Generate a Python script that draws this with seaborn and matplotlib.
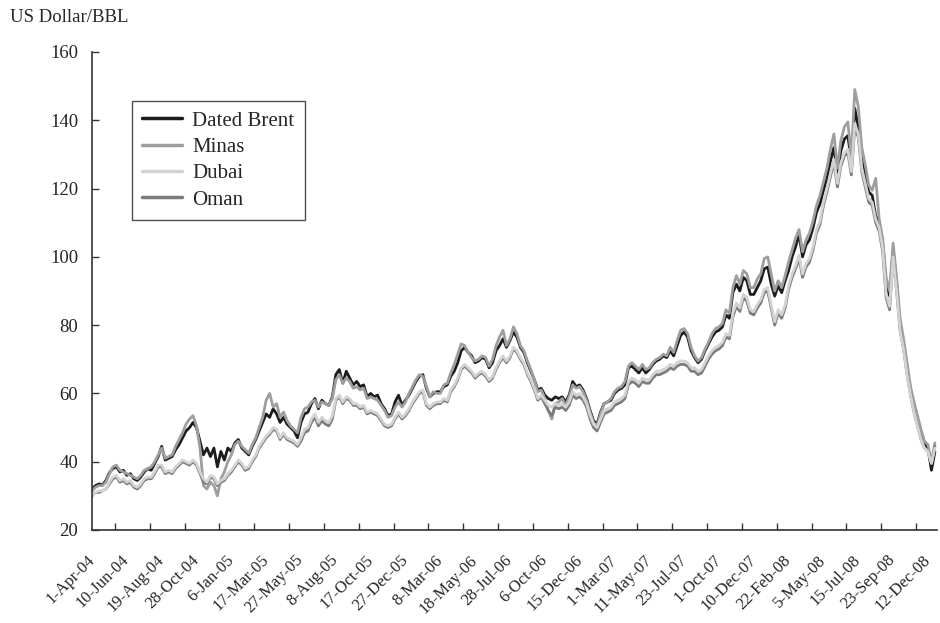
import matplotlib.pyplot as plt
import numpy as np
import pandas as pd
import seaborn as sns

# one reading every 5 trading days, starting 1-Apr-04
STEP_DAYS = 5
LABEL_EVERY = 50
SERIES = ["Dated Brent", "Minas", "Dubai", "Oman"]
COLORS = {
    "Dated Brent": "#1c1c1c",
    "Minas": "#9e9e9e",
    "Dubai": "#d3d3d3",
    "Oman": "#7c7c7c",
}
# Dubai is drawn over Oman, as in the original
ZORDER = {"Dated Brent": 2.0, "Minas": 2.1, "Dubai": 2.3, "Oman": 2.2}
DATE_LABELS = [
    "1-Apr-04", "10-Jun-04", "19-Aug-04", "28-Oct-04", "6-Jan-05", "17-Mar-05",
    "27-May-05", "8-Aug-05", "17-Oct-05", "27-Dec-05", "8-Mar-06", "18-May-06",
    "28-Jul-06", "6-Oct-06", "15-Dec-06", "1-Mar-07", "11-May-07", "23-Jul-07",
    "1-Oct-07", "10-Dec-07", "22-Feb-08", "5-May-08", "15-Jul-08", "23-Sep-08",
    "12-Dec-08",
]
Y_TICKS = [20, 40, 60, 80, 100, 120, 140, 160]

dated_brent = [
    32.0, 33.0, 33.5, 33.2, 34.5, 36.8, 38.0, 38.5, 37.0, 37.5,
    36.0, 36.5, 35.0, 34.5, 35.5, 37.0, 38.0, 37.5, 39.5, 41.5,
    44.5, 40.5, 41.0, 41.5, 43.5, 45.0, 47.0, 49.0, 50.0, 51.5,
    50.0, 46.0, 42.0, 44.0, 41.5, 44.0, 38.5, 43.0, 40.5, 44.0,
    43.0, 45.5, 46.5, 44.0, 43.0, 42.0, 44.5, 46.5, 49.0, 51.5,
    54.0, 53.0, 55.5, 54.0, 51.5, 53.0, 51.0, 50.0, 49.0, 47.0,
    51.5, 54.0, 54.5, 57.0, 58.5, 55.5, 58.0, 57.0, 56.5, 59.0,
    65.5, 67.0, 63.0, 66.5, 64.5, 62.5, 63.5, 62.0, 62.5, 59.0,
    60.0, 59.0, 59.5, 57.0, 55.5, 53.5, 54.0, 57.5, 59.5, 56.5,
    58.0, 59.5, 61.5, 63.5, 65.0, 65.5, 61.5, 59.0, 60.0, 60.5,
    60.5, 62.0, 62.5, 65.0, 66.5, 69.0, 72.5, 73.5, 72.0, 71.0,
    69.0, 69.5, 70.5, 70.0, 67.5, 69.0, 72.5, 74.0, 76.0, 73.5,
    75.5, 78.0, 76.5, 73.5, 72.0, 69.0, 66.5, 64.0, 61.0, 61.5,
    59.5, 58.5, 58.0, 59.0, 58.5, 59.0, 57.5, 59.5, 63.5, 62.0,
    62.5, 61.0, 58.5, 55.0, 52.0, 51.0, 54.5, 57.0, 57.5, 58.0,
    60.0, 61.0, 61.5, 62.5, 67.5, 68.0, 67.0, 66.0, 67.5, 66.0,
    67.0, 68.5, 69.5, 70.0, 71.0, 70.5, 72.5, 71.0, 74.0, 77.0,
    78.0, 76.5, 72.5, 70.5, 69.0, 70.0, 72.5, 74.5, 76.5, 78.0,
    78.5, 79.5, 83.0, 82.0, 89.5, 92.0, 90.0, 94.0, 93.0, 89.0,
    89.0, 91.0, 93.0, 96.5, 97.0, 92.0, 88.5, 91.5, 89.5, 93.0,
    96.0, 100.0, 103.0, 106.5, 100.0, 103.5, 105.0, 108.5, 113.0, 115.5,
    119.5, 123.0, 128.0, 132.0, 124.5, 131.0, 134.5, 135.5, 128.0, 143.5,
    138.0, 128.5, 124.0, 119.0, 118.0, 112.0, 110.0, 104.0, 92.0, 88.5,
    102.0, 92.0, 80.0, 74.0, 67.0, 61.0, 56.0, 52.0, 48.0, 45.0,
    44.0, 37.5, 43.0,
]

minas = [
    31.5, 32.5, 33.0, 33.0, 34.0, 36.5, 38.5, 39.0, 37.5, 37.0,
    36.5, 36.0, 35.5, 35.0, 36.0, 37.5, 38.0, 38.5, 40.0, 42.0,
    44.0, 41.0, 41.5, 42.0, 44.5, 46.5, 48.5, 51.0, 52.5, 53.5,
    50.5, 44.0, 33.0, 32.0, 34.0, 33.0, 30.0, 35.0, 37.0, 40.0,
    42.0, 45.0, 46.0, 44.5, 43.5, 42.5, 45.0, 47.0, 50.0, 53.0,
    58.0, 60.0, 56.0, 57.0, 53.0, 54.5, 52.0, 50.5, 49.5, 48.5,
    53.0, 55.5, 56.0, 57.5, 58.0, 56.0, 57.5, 57.0, 56.5, 58.5,
    64.0, 65.5, 63.0, 64.5, 63.5, 61.5, 62.0, 61.0, 61.5, 58.5,
    59.0, 58.5, 58.0, 56.5, 55.0, 53.0, 53.5, 56.0, 57.5, 56.0,
    57.5, 60.0, 62.0, 64.0, 65.5, 65.0, 62.0, 59.0, 60.5, 60.0,
    60.0, 62.5, 63.0, 66.0, 68.5, 71.5, 74.5, 74.0, 72.0, 70.5,
    69.5, 70.0, 71.0, 70.5, 68.0, 70.0, 74.0, 76.5, 78.5, 74.0,
    76.0, 79.5, 77.5, 74.0, 72.5, 69.5, 67.0, 64.0, 60.5, 61.0,
    58.5, 55.0, 52.5, 57.0, 57.5, 58.5, 56.5, 59.0, 62.5, 61.5,
    62.0, 60.5, 58.0, 54.5, 51.5, 50.5, 54.0, 57.0, 57.5, 58.5,
    60.5, 61.5, 62.0, 63.5, 68.0, 69.0, 68.0, 67.0, 68.5, 67.0,
    67.5, 69.0, 70.0, 70.5, 71.5, 71.0, 73.5, 72.0, 75.5, 78.5,
    79.0, 77.5, 73.5, 71.0, 69.5, 70.5, 73.0, 75.0, 77.5, 79.0,
    79.5, 80.5, 84.5, 83.5, 91.0, 94.5, 92.0, 96.0, 95.0, 91.0,
    91.0, 93.5, 95.0, 99.5, 100.0, 95.0, 90.0, 93.0, 91.0, 94.5,
    98.5, 102.0, 105.5, 108.0, 101.5, 105.0, 107.0, 110.5, 115.0, 118.0,
    122.0, 126.0, 131.5, 136.0, 126.0, 134.0, 138.0, 139.5, 129.0, 149.0,
    144.0, 132.0, 127.0, 121.0, 119.5, 123.0, 111.0, 105.5, 94.0, 90.0,
    104.0, 94.0, 82.0, 76.0, 69.0, 62.0, 57.5, 53.5, 49.5, 46.0,
    45.0, 40.0, 45.5,
]

dubai = [
    30.0, 31.0, 31.5, 31.5, 32.0, 34.0, 35.5, 36.0, 34.5, 35.0,
    34.0, 34.5, 33.0, 32.5, 33.5, 35.0, 35.5, 35.5, 37.0, 39.0,
    39.0, 37.0, 37.5, 37.0, 38.5, 39.5, 40.5, 40.0, 39.5, 40.5,
    39.5, 37.0, 35.0, 34.0, 36.0, 35.5, 33.5, 34.5, 35.0, 36.5,
    37.5, 39.0, 40.5, 39.5, 38.0, 38.5, 40.5, 42.0, 44.5, 46.0,
    47.5, 48.5, 50.0, 49.5, 47.0, 48.5, 47.0, 46.5, 46.0, 45.0,
    47.0, 49.5, 50.0, 52.5, 54.0, 51.5, 53.0, 52.0, 51.5, 53.5,
    58.5, 59.5, 57.5, 59.0, 58.5, 57.0, 57.0, 56.0, 56.5, 54.5,
    55.0, 54.5, 54.0, 52.5, 51.0, 50.5, 51.0, 53.0, 54.5, 53.0,
    54.0, 55.5, 57.5, 59.0, 60.5, 61.0, 57.0, 56.0, 57.0, 57.5,
    57.5, 58.5, 58.0, 61.0, 62.5, 64.5, 67.5, 68.5, 67.5, 66.5,
    65.0, 66.0, 66.5, 65.5, 64.0, 65.0, 67.5, 69.5, 71.0, 69.5,
    71.0, 73.5, 72.5, 70.5, 69.0, 66.0, 64.0, 61.5, 58.5, 59.5,
    58.0, 56.5, 56.0, 57.0, 56.5, 57.0, 56.0, 57.5, 60.5, 59.5,
    60.0, 59.0, 57.0, 53.5, 51.0, 50.0, 52.5, 55.0, 55.5, 56.0,
    57.5, 58.0, 58.5, 59.5, 63.5, 64.5, 64.0, 63.0, 64.5, 64.0,
    64.0, 65.5, 66.5, 66.5, 67.0, 67.5, 68.5, 68.0, 69.0, 69.5,
    69.5, 69.0, 67.5, 67.5, 66.5, 67.0, 69.0, 71.0, 72.5, 73.5,
    74.0, 75.0, 77.5, 77.0, 83.5, 86.5, 85.0, 89.0, 88.0, 84.5,
    84.0, 86.0, 87.5, 90.5, 91.0, 86.0, 81.0, 84.5, 83.0, 86.0,
    91.5, 95.0, 97.5, 100.5, 95.0, 98.0, 99.5, 103.0, 108.0, 110.5,
    116.0, 120.0, 124.5, 128.5, 121.5, 127.5, 130.5, 131.5, 125.0, 139.0,
    136.0, 126.0, 121.5, 117.0, 116.0, 111.0, 108.5, 102.5, 89.0, 85.5,
    100.0, 90.0, 78.5, 73.0, 65.5, 59.5, 54.5, 50.5, 46.5, 44.0,
    43.0, 39.5, 44.0,
]

oman = [
    30.0, 31.0, 31.0, 31.5, 32.0, 33.5, 35.0, 35.5, 34.0, 34.5,
    33.5, 34.0, 32.5, 32.0, 33.0, 34.5, 35.0, 35.0, 36.5, 38.5,
    38.5, 36.5, 37.0, 36.5, 38.0, 39.0, 40.0, 39.5, 39.0, 40.0,
    39.0, 36.5, 34.0, 33.5, 35.5, 35.0, 33.0, 34.0, 34.5, 36.0,
    37.0, 38.5, 40.0, 39.0, 37.5, 38.0, 40.0, 41.5, 44.0, 45.5,
    47.0, 48.0, 49.5, 49.0, 46.5, 48.0, 46.5, 46.0, 45.5, 44.5,
    46.0, 48.5, 49.0, 51.5, 53.0, 50.5, 52.0, 51.0, 50.5, 52.5,
    58.0, 59.0, 57.0, 58.5, 58.0, 56.5, 56.5, 55.5, 56.0, 54.0,
    54.5, 54.0, 53.5, 52.0, 50.5, 50.0, 50.5, 52.5, 54.0, 52.5,
    53.5, 55.0, 57.0, 58.5, 60.0, 60.5, 56.5, 55.5, 56.5, 57.0,
    57.0, 58.0, 57.5, 60.5, 62.0, 64.0, 67.0, 68.0, 67.0, 66.0,
    64.5, 65.5, 66.0, 65.0, 63.5, 64.5, 67.0, 69.0, 70.5, 69.0,
    70.5, 73.0, 72.0, 70.0, 68.5, 65.5, 63.5, 61.0, 58.0, 59.0,
    57.0, 55.0, 53.5, 56.0, 55.5, 56.0, 55.0, 56.5, 59.5, 58.5,
    59.0, 58.0, 56.0, 52.5, 50.0, 49.0, 51.5, 54.0, 54.5, 55.0,
    56.5, 57.0, 57.5, 58.5, 62.5, 63.5, 63.0, 62.0, 63.5, 63.0,
    63.0, 64.5, 65.5, 65.5, 66.0, 66.5, 67.5, 67.0, 68.0, 68.5,
    68.5, 68.0, 66.5, 66.5, 65.5, 66.0, 68.0, 70.0, 71.5, 72.5,
    73.0, 74.0, 76.5, 76.0, 82.5, 85.5, 84.0, 88.0, 87.0, 83.5,
    83.0, 85.0, 86.5, 89.5, 90.0, 85.0, 80.0, 83.5, 82.0, 85.0,
    90.5, 94.0, 96.5, 99.5, 94.0, 97.0, 98.5, 102.0, 107.0, 109.5,
    115.0, 119.0, 123.5, 127.5, 120.5, 126.5, 129.5, 130.5, 124.0, 138.0,
    135.0, 125.0, 120.5, 116.0, 115.0, 110.0, 107.5, 101.5, 88.0, 84.5,
    100.0, 90.0, 78.5, 73.0, 65.5, 59.5, 54.5, 50.5, 46.5, 44.0,
    43.0, 39.5, 44.5,
]


def build_frame():
    frames = []
    for name, values in zip(SERIES, [dated_brent, minas, dubai, oman]):
        frames.append(pd.DataFrame({
            "day": np.arange(len(values)) * STEP_DAYS,
            "price": values,
            "crude": name,
        }))
    return pd.concat(frames, ignore_index=True)


def main():
    df = build_frame()

    sns.set_style("ticks")
    plt.rcParams["font.family"] = ["Liberation Serif", "DejaVu Serif"]

    fig = plt.figure(figsize=(9.4, 6.23), dpi=100)
    ax = fig.add_axes([92 / 940, 93 / 623, 845 / 940, 478 / 623])

    sns.lineplot(data=df, x="day", y="price", hue="crude", hue_order=SERIES,
                 palette=COLORS, linewidth=2.0, ax=ax)
    for line, name in zip(ax.get_lines(), SERIES):
        line.set_zorder(ZORDER[name])

    n_days = (len(dated_brent) - 1) * STEP_DAYS + 3
    ax.set_xlim(0, n_days)
    ax.set_ylim(20, 160)
    ax.set_yticks(Y_TICKS)
    ax.set_xlabel("")
    ax.set_ylabel("")

    label_pos = np.arange(len(DATE_LABELS)) * LABEL_EVERY
    ax.set_xticks(label_pos)
    ax.set_xticklabels(DATE_LABELS, rotation=45, ha="right", va="center",
                       rotation_mode="anchor", fontsize=12)
    ax.set_xticks(np.arange(33, n_days, LABEL_EVERY), minor=True)
    ax.tick_params(axis="x", which="major", length=0, pad=20)
    ax.tick_params(axis="x", which="minor", direction="in", length=5,
                   width=1.0, color="#333333")
    ax.tick_params(axis="y", direction="in", length=5, width=1.0,
                   color="#333333", labelsize=13.5, pad=10)

    sns.despine(ax=ax)
    for side in ["left", "bottom"]:
        ax.spines[side].set_color("#333333")
        ax.spines[side].set_linewidth(1.2)

    leg = ax.legend(loc="upper left", bbox_to_anchor=(0.047, 0.898),
                    borderaxespad=0, frameon=True, fancybox=False,
                    fontsize=15, handlelength=1.9, handletextpad=0.5,
                    labelspacing=0.32, borderpad=0.5)
    leg.get_frame().set_edgecolor("#222222")
    leg.get_frame().set_linewidth(1.0)
    for line in leg.get_lines():
        line.set_linewidth(2.5)

    fig.text(10 / 940, 1 - 18 / 623, "US Dollar/BBL", fontsize=13.5,
             ha="left", va="center")

    fig.savefig("out.png", dpi=100)
    plt.close(fig)


if __name__ == "__main__":
    main()
